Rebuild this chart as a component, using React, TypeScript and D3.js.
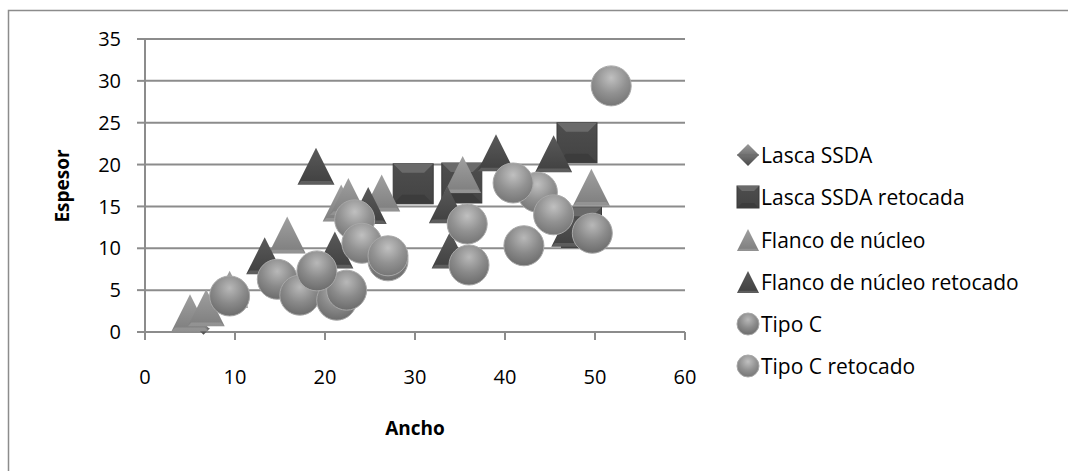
import React from "react";
import * as d3 from "d3";

const xTicks = [0, 10, 20, 30, 40, 50, 60];
const yTicks = [0, 5, 10, 15, 20, 25, 30, 35];

const lascaX = [6.5];
const lascaY = [0.4];
const lascaRetX = [29.8, 35.2, 48.0, 48.5];
const lascaRetY = [17.7, 17.8, 22.6, 12.5];
const flancoX = [5.0, 6.8, 9.4, 15.8, 21.8, 22.6, 26.3, 35.3, 49.6];
const flancoY = [2.3, 2.9, 5.1, 11.6, 15.4, 16.2, 16.6, 18.8, 17.3];
const flancoRetX = [13.3, 19.0, 21.1, 24.8, 33.6, 33.9, 39.0, 45.4, 47.2];
const flancoRetY = [9.1, 19.8, 9.8, 15.1, 15.2, 9.8, 21.4, 21.3, 12.4];
const tipoCX = [9.4, 14.7, 17.2, 21.3, 22.4, 19.1, 27.0, 36.0, 42.1, 49.7];
const tipoCY = [4.3, 6.3, 4.4, 3.8, 5.0, 7.3, 8.5, 8.0, 10.3, 11.8];
const tipoCRetX = [23.3, 24.1, 27.0, 35.8, 43.6, 40.9, 45.4, 51.8];
const tipoCRetY = [13.4, 10.6, 9.1, 12.9, 16.7, 17.8, 14.0, 29.4];

const seriesNames = [
  "Lasca SSDA",
  "Lasca SSDA retocada",
  "Flanco de núcleo",
  "Flanco de núcleo retocado",
  "Tipo C",
  "Tipo C retocado",
];
const seriesShapes = ["diamond", "square", "triangle", "triangle", "circle", "circle"];
const seriesFills = ["url(#gDia)", "url(#gSq)", "url(#gTriL)", "url(#gTriD)", "url(#gCirA)", "url(#gCirB)"];

const seriesX = [lascaX, lascaRetX, flancoX, flancoRetX, tipoCX, tipoCRetX];
const seriesY = [lascaY, lascaRetY, flancoY, flancoRetY, tipoCY, tipoCRetY];

const FONT = "'Open Sans', Lato, sans-serif";

function Marker({ shape, fill, cx, cy, s }: { shape: string; fill: string; cx: number; cy: number; s: number }) {
  const h = s / 2;
  if (shape === "circle") {
    return <circle cx={cx} cy={cy} r={h} fill={fill} stroke="#a8a8a8" strokeWidth={1} />;
  }
  if (shape === "square") {
    return (
      <g>
        <rect x={cx - h} y={cy - h} width={s} height={s} fill={fill} stroke="#3a3a3a" strokeWidth={1} />
        <path d={`M${cx - h},${cy - h} L${cx + h},${cy - h} L${cx + h * 0.55},${cy - h * 0.55} L${cx - h * 0.55},${cy - h * 0.55} Z`} fill="#6a6a6a" />
        <path d={`M${cx - h},${cy + h} L${cx + h},${cy + h} L${cx + h * 0.55},${cy + h * 0.55} L${cx - h * 0.55},${cy + h * 0.55} Z`} fill="#3c3c3c" />
      </g>
    );
  }
  if (shape === "triangle") {
    return (
      <g>
        <path d={`M${cx},${cy - h} L${cx + h},${cy + h} L${cx - h},${cy + h} Z`} fill={fill} />
        <path d={`M${cx - h},${cy + h} L${cx + h},${cy + h} L${cx + h * 0.8},${cy + h * 0.8} L${cx - h * 0.8},${cy + h * 0.8} Z`} fill="#ffffff" opacity={0.15} />
      </g>
    );
  }
  return (
    <g>
      <path d={`M${cx},${cy - h} L${cx + h},${cy} L${cx},${cy + h} L${cx - h},${cy} Z`} fill={fill} />
      <path d={`M${cx - h},${cy} L${cx + h},${cy}`} stroke="#6a6a6a" strokeWidth={1} />
    </g>
  );
}

export default function App() {
  const W = 1068;
  const H = 471;
  const x = d3.scaleLinear().domain([0, 60]).range([145, 685]);
  const y = d3.scaleLinear().domain([0, 35]).range([332, 39]);
  const sizes = [12, 40, 37, 37, 40, 40];
  const legendY = [155, 197, 240, 282, 324, 366];

  return (
    <svg width={W} height={H} style={{ position: "absolute", left: 0, top: 0, background: "#fff" }}>
      <defs>
        <radialGradient id="gCirA" cx="50%" cy="30%" r="70%">
          <stop offset="0%" stopColor="#b8b8b8" />
          <stop offset="55%" stopColor="#8a8a8a" />
          <stop offset="100%" stopColor="#6c6c6c" />
        </radialGradient>
        <radialGradient id="gCirB" cx="50%" cy="30%" r="70%">
          <stop offset="0%" stopColor="#c0c0c0" />
          <stop offset="55%" stopColor="#929292" />
          <stop offset="100%" stopColor="#767676" />
        </radialGradient>
        <linearGradient id="gTriL" x1="0" y1="0" x2="0" y2="1">
          <stop offset="0%" stopColor="#a0a0a0" />
          <stop offset="100%" stopColor="#7e7e7e" />
        </linearGradient>
        <linearGradient id="gTriD" x1="0" y1="0" x2="0" y2="1">
          <stop offset="0%" stopColor="#5a5a5a" />
          <stop offset="100%" stopColor="#404040" />
        </linearGradient>
        <linearGradient id="gSq" x1="0" y1="0" x2="0" y2="1">
          <stop offset="0%" stopColor="#4e4e4e" />
          <stop offset="100%" stopColor="#434343" />
        </linearGradient>
        <linearGradient id="gDia" x1="0" y1="0" x2="0" y2="1">
          <stop offset="0%" stopColor="#9a9a9a" />
          <stop offset="100%" stopColor="#4a4a4a" />
        </linearGradient>
      </defs>
      <rect x={8.5} y={10.5} width={1070} height={470} fill="#fff" stroke="#8c8c8c" strokeWidth={1.5} />

      {yTicks.map((t) => (
        <g key={"y" + t}>
          {t > 0 && <line x1={145} x2={685} y1={y(t)} y2={y(t)} stroke="#8c8c8c" strokeWidth={2} />}
          <line x1={137} x2={145} y1={y(t)} y2={y(t)} stroke="#8c8c8c" strokeWidth={2} />
          <text x={121} y={y(t)} dy="0.36em" textAnchor="end" fontFamily={FONT} fontSize={20} fill="#000">
            {t}
          </text>
        </g>
      ))}
      {xTicks.map((t) => (
        <g key={"x" + t}>
          <line x1={x(t)} x2={x(t)} y1={332} y2={340} stroke="#8c8c8c" strokeWidth={2} />
          <text x={x(t)} y={377} dy="0.36em" textAnchor="middle" fontFamily={FONT} fontSize={20} fill="#000">
            {t}
          </text>
        </g>
      ))}
      <line x1={145} x2={145} y1={39} y2={340} stroke="#8c8c8c" strokeWidth={2} />
      <line x1={137} x2={685} y1={332} y2={332} stroke="#8c8c8c" strokeWidth={2} />

      <text x={415} y={428} dy="0.36em" textAnchor="middle" fontFamily={FONT} fontWeight="bold" fontSize={19}>
        Ancho
      </text>
      <text transform={`translate(62,186) rotate(-90)`} dy="0.36em" textAnchor="middle" fontFamily={FONT} fontWeight="bold" fontSize={19}>
        Espesor
      </text>

      {seriesX.map((xs, si) => (
        <g key={"s" + si}>
          {xs.map((v, i) => (
            <Marker key={i} shape={seriesShapes[si]} fill={seriesFills[si]} cx={x(v)} cy={y(seriesY[si][i])} s={sizes[si]} />
          ))}
        </g>
      ))}

      {seriesNames.map((n, i) => (
        <g key={"l" + i}>
          <Marker shape={seriesShapes[i]} fill={seriesFills[i]} cx={748} cy={legendY[i]} s={22} />
          <text x={761} y={legendY[i]} dy="0.36em" fontFamily={FONT} fontSize={21} fill="#000">
            {n}
          </text>
        </g>
      ))}
    </svg>
  );
}
